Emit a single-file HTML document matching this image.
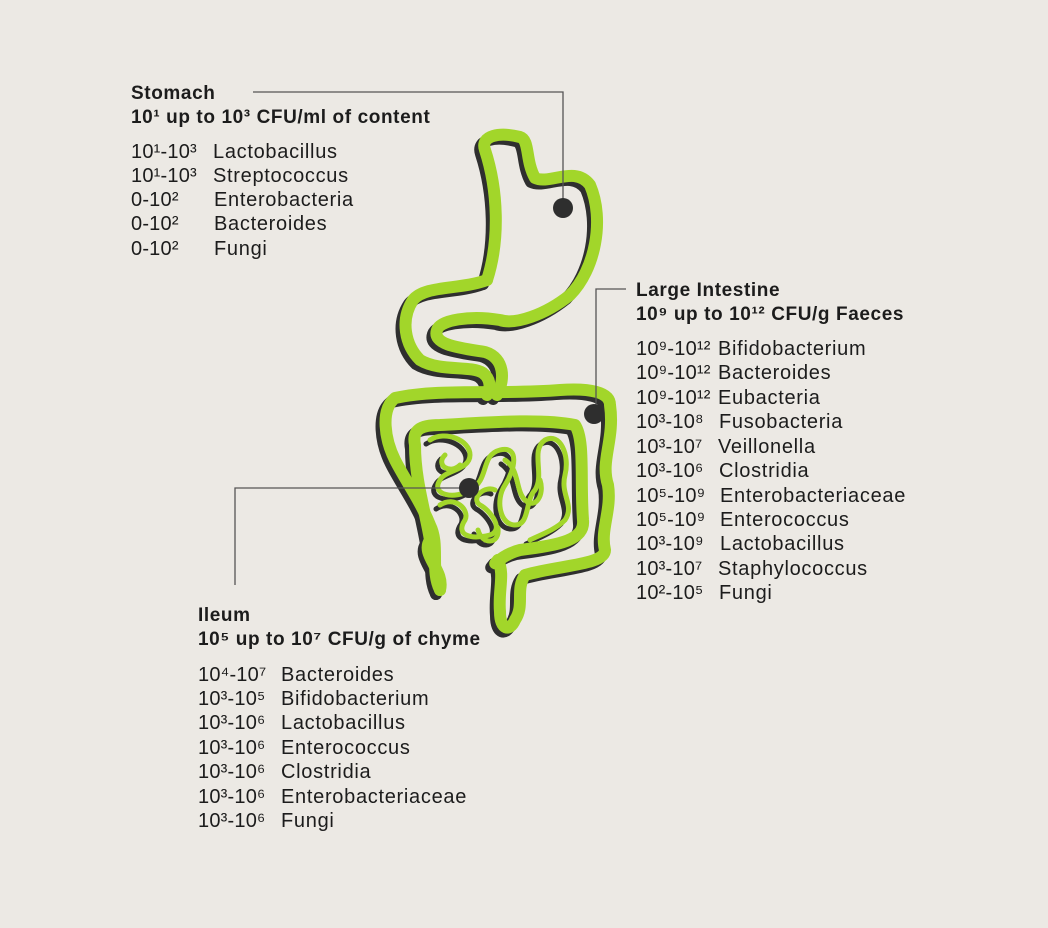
<!DOCTYPE html>
<html><head><meta charset="utf-8"><style>
body{margin:0;width:1048px;height:928px;background:#ece9e4;position:relative;overflow:hidden;font-family:"Liberation Sans","DejaVu Sans",sans-serif;color:#1c1c1c}
.t{position:absolute;font-size:19px;letter-spacing:0.6px;font-weight:bold;white-space:nowrap;line-height:24px;margin-top:2px}
.r{position:absolute;font-size:20px;letter-spacing:0.7px;white-space:nowrap;line-height:24px;margin-top:2px}
.r span{position:absolute;left:0}
.r span:first-child{letter-spacing:0.2px}
svg{position:absolute;left:0;top:0}
</style></head><body>
<svg width="1048" height="928" viewBox="0 0 1048 928">
<defs>
<g id="gut" fill="none" stroke-linecap="round" stroke-linejoin="round">
 <path stroke-width="12" d="M487,280 C500,240 498,190 485,150 C480,135 500,132 520,137 C530,140 525,160 535,178 C550,185 575,165 590,185 C605,220 595,270 570,295 C545,315 515,325 500,320 C470,315 440,320 437,330 C432,345 460,348 485,352 C505,358 505,380 497,395"/>
 <path stroke-width="12" d="M487,280 C460,290 425,285 413,300 C400,320 405,345 420,360 C440,372 470,365 483,373 C492,380 490,390 487,395"/>
 <path stroke-width="12" d="M440,590 C430,570 440,545 430,525 C420,500 405,480 395,460 C385,440 380,410 395,398 C440,388 500,395 560,390 C590,388 610,392 610,405 C615,440 600,460 608,485 C612,510 600,530 605,550 C605,565 560,565 525,575 C515,590 525,605 515,620 C510,632 500,630 500,612 C498,590 505,575 498,560"/>
 <path stroke-width="12" d="M440,590 C445,570 420,555 430,540 C425,510 415,480 415,445 C412,430 420,425 440,425 C480,423 540,418 575,425 C585,440 580,480 583,520 C585,540 560,545 520,550 C500,555 490,570 498,560"/>
 <g stroke-width="5">
  <path d="M430,440 C445,430 470,440 470,455 C470,470 445,470 440,480 C430,495 455,500 470,490 C490,480 480,455 500,450 C520,445 515,470 505,485 C495,500 500,525 515,525 C530,525 525,500 535,490 C545,475 530,450 545,440 C560,432 570,455 565,475 C560,495 575,505 565,520 C555,530 540,535 530,540"/>
  <path d="M440,505 C455,495 470,510 465,520 C455,535 470,540 490,535 C505,530 490,510 480,505 C470,498 485,485 495,490"/>
  <path d="M445,455 C435,465 450,475 460,465 M505,460 C520,470 515,490 525,500 C535,510 545,495 540,480"/>
  <path d="M478,530 C482,545 500,545 498,528"/>
 </g>
</g>
</defs>
<use href="#gut" transform="translate(-4,4)" stroke="#2f2f2f"/>
<use href="#gut" stroke="#a2d62a"/>
<g stroke="#555" stroke-width="1.3" fill="none">
 <path d="M253,92 H563 V208"/>
 <path d="M626,289 H596 V414"/>
 <path d="M469,488 H235 V585"/>
</g>
<g fill="#2e2e2e">
 <circle cx="563" cy="208" r="10"/>
 <circle cx="594" cy="414" r="10"/>
 <circle cx="469" cy="488" r="10"/>
</g>
</svg>

<div class="t" style="left:131px;top:80px">Stomach</div>
<div class="t" style="left:131px;top:104px">10¹ up to 10³ CFU/ml of content</div>
<div class="r" style="left:131px;top:138px"><span>10¹-10³</span><span style="left:82px">Lactobacillus</span></div>
<div class="r" style="left:131px;top:162px"><span>10¹-10³</span><span style="left:82px">Streptococcus</span></div>
<div class="r" style="left:131px;top:186px"><span>0-10²</span><span style="left:83px">Enterobacteria</span></div>
<div class="r" style="left:131px;top:210px"><span>0-10²</span><span style="left:83px">Bacteroides</span></div>
<div class="r" style="left:131px;top:235px"><span>0-10²</span><span style="left:83px">Fungi</span></div>

<div class="t" style="left:636px;top:277px">Large Intestine</div>
<div class="t" style="left:636px;top:301px">10⁹ up to 10¹² CFU/g Faeces</div>
<div class="r" style="left:636px;top:335px"><span>10⁹-10¹²</span><span style="left:82px">Bifidobacterium</span></div>
<div class="r" style="left:636px;top:359px"><span>10⁹-10¹²</span><span style="left:82px">Bacteroides</span></div>
<div class="r" style="left:636px;top:384px"><span>10⁹-10¹²</span><span style="left:82px">Eubacteria</span></div>
<div class="r" style="left:636px;top:408px"><span>10³-10⁸</span><span style="left:83px">Fusobacteria</span></div>
<div class="r" style="left:636px;top:433px"><span>10³-10⁷</span><span style="left:82px">Veillonella</span></div>
<div class="r" style="left:636px;top:457px"><span>10³-10⁶</span><span style="left:83px">Clostridia</span></div>
<div class="r" style="left:636px;top:482px"><span>10⁵-10⁹</span><span style="left:84px">Enterobacteriaceae</span></div>
<div class="r" style="left:636px;top:506px"><span>10⁵-10⁹</span><span style="left:84px">Enterococcus</span></div>
<div class="r" style="left:636px;top:530px"><span>10³-10⁹</span><span style="left:84px">Lactobacillus</span></div>
<div class="r" style="left:636px;top:555px"><span>10³-10⁷</span><span style="left:82px">Staphylococcus</span></div>
<div class="r" style="left:636px;top:579px"><span>10²-10⁵</span><span style="left:83px">Fungi</span></div>

<div class="t" style="left:198px;top:602px">Ileum</div>
<div class="t" style="left:198px;top:626px">10⁵ up to 10⁷ CFU/g of chyme</div>
<div class="r" style="left:198px;top:661px"><span>10⁴-10⁷</span><span style="left:83px">Bacteroides</span></div>
<div class="r" style="left:198px;top:685px"><span>10³-10⁵</span><span style="left:83px">Bifidobacterium</span></div>
<div class="r" style="left:198px;top:709px"><span>10³-10⁶</span><span style="left:83px">Lactobacillus</span></div>
<div class="r" style="left:198px;top:734px"><span>10³-10⁶</span><span style="left:83px">Enterococcus</span></div>
<div class="r" style="left:198px;top:758px"><span>10³-10⁶</span><span style="left:83px">Clostridia</span></div>
<div class="r" style="left:198px;top:783px"><span>10³-10⁶</span><span style="left:83px">Enterobacteriaceae</span></div>
<div class="r" style="left:198px;top:807px"><span>10³-10⁶</span><span style="left:83px">Fungi</span></div>
</body></html>
